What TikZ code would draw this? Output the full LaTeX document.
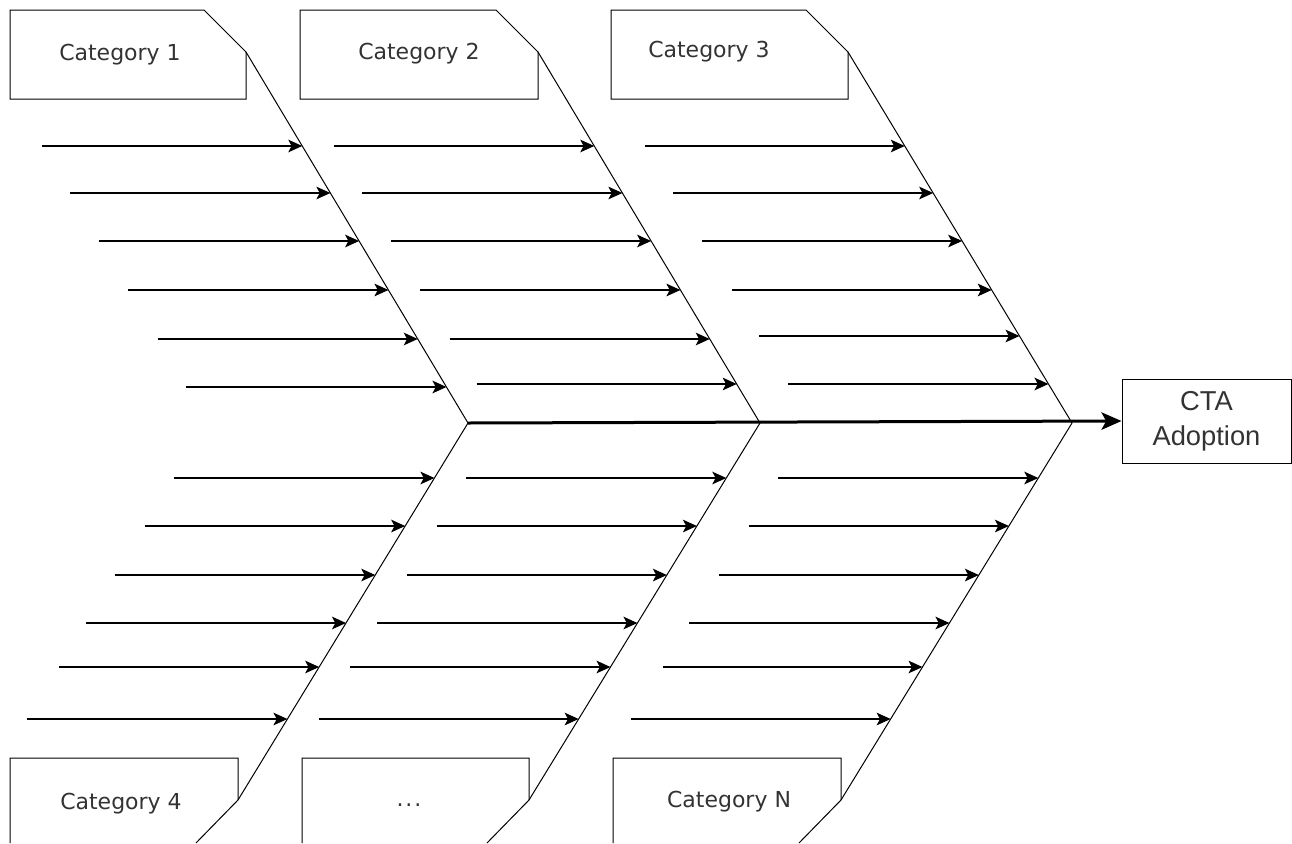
\documentclass[tikz,border=0pt]{standalone}
\usepackage{fontspec}
\usepackage{tikz}
\usetikzlibrary{arrows.meta,calc}
\newfontfamily\catfont{DejaVu Sans}
\newfontfamily\headfont{Liberation Sans}
\definecolor{fishtext}{HTML}{333333}
\tikzset{
  fishcat/.style={font=\catfont\fontsize{16.5}{20}\selectfont,text=fishtext,inner sep=0pt},
  fishbox/.style={draw=black,line width=0.75pt},
  fishbone/.style={draw=black,line width=0.75pt},
  fishcause/.style={-{Stealth[length=10.5pt,width=9.5pt,inset=2.5pt]},draw=black,line width=0.8pt},
  fishspine/.style={-{Stealth[length=15pt,width=13pt,inset=3.5pt]},draw=black,line width=2.25pt},
  fishhead/.style={draw=black,line width=0.75pt,font=\headfont\fontsize{20.5}{26}\selectfont,text=fishtext,align=center,minimum width=126.75pt,minimum height=63pt,inner sep=0pt}
}

\begin{document}
\begin{tikzpicture}[x=0.75pt,y=-0.75pt]
\useasboundingbox (0,0) rectangle (1292,843);
\coordinate (j1) at (468,423);
\coordinate (j2) at (760,423);
\coordinate (j3) at (1072,423);
\node[fishhead] (cta) at (1206.5,421) {CTA\\Adoption};
\foreach \n/\xa/\xb/\tx/\ty/\lab in {1/10/246/120/55/Category 1,2/300/538/419/54/Category 2,3/611/848/709/52/Category 3}{
  \coordinate (t\n) at (\xb,52);
  \draw[fishbox] (\xa,99) -- (\xa,10) -- (\xb-42,10) -- (t\n) -- (\xb,99) -- cycle;
  \node[fishcat] (c\n) at (\tx,\ty) {\lab};
  \draw[fishbone] (t\n) -- (j\n);
}
\foreach \n/\j/\xa/\xb/\tx/\ty/\lab in {4/1/10/238/121/804/Category 4,5/2/302/529/409/805/{.\hspace{1.5pt}.\hspace{1.5pt}.},6/3/613/841/729/802/Category N}{
  \coordinate (t\n) at (\xb,800);
  \draw[fishbox] (\xa,843) -- (\xa,758) -- (\xb,758) -- (t\n) -- (\xb-42,843);
  \node[fishcat] (c\n) at (\tx,\ty) {\lab};
  \draw[fishbone] (t\n) -- (j\j);
}
\draw[fishspine] (j1) -- (cta.west);
\foreach \b/\j/\yb/\ys in {t1/j1/52/{146,193,241,290,339,387},t2/j2/52/{146,193,241,290,339,384},t3/j3/52/{146,193,241,290,336,384},t4/j1/800/{478,526,575,623,667,719},t5/j2/800/{478,526,575,623,667,719},t6/j3/800/{478,526,575,623,667,719}}{
  \foreach \y in \ys{
    \coordinate (\b-\y) at ($(\b)!{(\y-\yb)/(423-\yb)}!(\j)$);
    \draw[fishcause] ([xshift=-195pt]\b-\y) -- (\b-\y);
  }
}
\end{tikzpicture}
\end{document}
